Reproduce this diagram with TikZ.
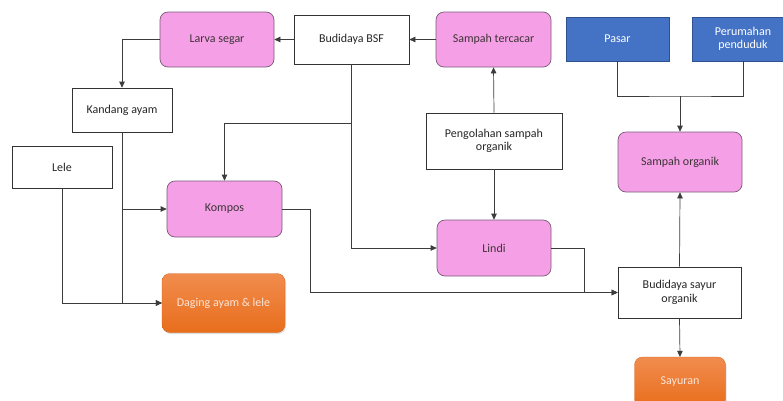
\documentclass[tikz,border=0pt]{standalone}
\usepackage{fontspec}
\setmainfont{Carlito}
\usetikzlibrary{arrows.meta,shadows}
\definecolor{pinkfill}{RGB}{245,160,230}
\definecolor{pinkdraw}{RGB}{120,90,120}
\definecolor{bluefill}{RGB}{68,114,196}
\definecolor{bluedraw}{RGB}{47,82,143}
\definecolor{orangetop}{RGB}{241,140,78}
\definecolor{orangebot}{RGB}{232,110,28}
\definecolor{peach}{RGB}{252,228,214}
\definecolor{linec}{RGB}{60,60,60}
\tikzset{
  base/.style={inner sep=1pt, align=center, font=\fontsize{12}{13.5}\selectfont},
  whitebox/.style={base, draw=black!80, line width=0.7pt, fill=white, text=black!85},
  pinkbox/.style={base, draw=pinkdraw, line width=0.7pt, fill=pinkfill, rounded corners=8pt, text=black!80!magenta!60!black},
  bluebox/.style={base, draw=bluedraw, line width=0.7pt, fill=bluefill, text=white},
  orangebox/.style={base, rounded corners=8pt, top color=orangetop, bottom color=orangebot, draw=orangebot!90!black, line width=0.3pt, text=peach, drop shadow={opacity=0.25, shadow xshift=1pt, shadow yshift=-1.5pt}},
  conn/.style={draw=linec, line width=0.7pt},
  arr/.style={conn, -{Triangle[length=6pt,width=5.5pt]}},
}
\begin{document}
\begin{tikzpicture}[x=1pt,y=-1pt]
\useasboundingbox (0,0) rectangle (783,400);
\clip (0,0) rectangle (783,400);
\fill[white] (0,0) rectangle (783,400);
% nodes
\node[pinkbox, minimum width=114pt, minimum height=55pt] (larva) at (217,39.5) {Larva segar};
\node[whitebox, minimum width=115pt, minimum height=49pt] (bsf) at (351.5,39.5) {Budidaya BSF};
\node[pinkbox, minimum width=115pt, minimum height=55pt] (tercacar) at (493.5,39.5) {Sampah tercacar};
\node[bluebox, minimum width=103pt, minimum height=44pt] (pasar) at (617.5,39) {Pasar};
\node[bluebox, minimum width=102pt, minimum height=44pt] (perumahan) at (743,39) {Perumahan\\penduduk};
\node[pinkbox, minimum width=124pt, minimum height=60pt] (sorganik) at (680,162) {Sampah organik};
\node[whitebox, minimum width=136pt, minimum height=56pt] (pengolahan) at (494,141) {Pengolahan sampah\\organik};
\node[pinkbox, minimum width=114pt, minimum height=56pt] (lindi) at (494,248) {Lindi};
\node[whitebox, minimum width=123pt, minimum height=51pt] (sayur) at (679.5,292.5) {Budidaya sayur\\organik};
\node[orangebox, minimum width=91pt, minimum height=50pt] (sayuran) at (680,382) {Sayuran};
\node[whitebox, minimum width=100pt, minimum height=44pt] (kandang) at (122,110) {Kandang ayam};
\node[whitebox, minimum width=100pt, minimum height=42pt] (lele) at (62,167) {Lele};
\node[pinkbox, minimum width=115pt, minimum height=56pt] (kompos) at (224.5,209) {Kompos};
\node[orangebox, minimum width=123pt, minimum height=59pt] (daging) at (223.5,303) {Daging ayam \& lele};
% junction coordinates
\coordinate (jbsf) at (351.5,123);
\coordinate (jk) at (310,209);
\coordinate (jl) at (584,248);
\coordinate (jp) at (680,96);
% connectors
\draw[arr] (bsf.west) -- (larva.east);
\draw[arr] (tercacar.west) -- (bsf.east);
\draw[arr] (pengolahan.north) -- (tercacar.south);
\draw[arr] (pengolahan.south) -- (lindi.north);
\draw[arr] (larva.west) -| (kandang.north);
\draw[arr] (bsf.south) |- (lindi.west);
\draw[arr] (jbsf) -| (kompos.north);
\draw[arr] (kandang.south) |- (daging.west);
\draw[arr] (kandang.south |- kompos.west) -- (kompos.west);
\draw[arr] (lele.south) |- (daging.west);
\draw[arr] (kompos.east) -- (jk) |- (sayur.west);
\draw[arr] (lindi.east) -- (jl) |- (sayur.west);
\draw[conn] (pasar.south) |- (jp) -| (perumahan.south);
\draw[arr] (jp) -- (sorganik.north);
\draw[arr] (sayur.north) -- (sorganik.south);
\draw[arr] (sayur.south) -- (sayuran.north);
\end{tikzpicture}
\end{document}
